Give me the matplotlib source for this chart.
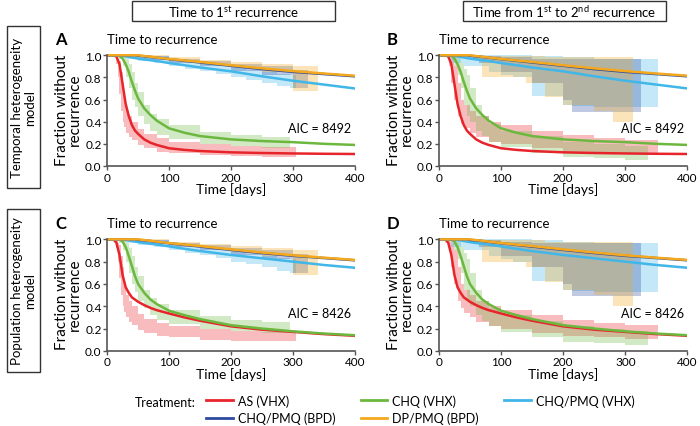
import numpy as np
import matplotlib
matplotlib.use('Agg')
import matplotlib.pyplot as plt
from matplotlib.lines import Line2D
from matplotlib.patches import Rectangle

plt.rcParams['font.family'] = ['Lato', 'DejaVu Sans']
plt.rcParams['mathtext.fontset'] = 'custom'
plt.rcParams['mathtext.rm'] = 'Lato'

# treatments
labels = ['AS (VHX)', 'CHQ (VHX)', 'CHQ/PMQ (VHX)', 'CHQ/PMQ (BPD)', 'DP/PMQ (BPD)']
colors = ['#e8242b', '#6cb83f', '#41b6e8', '#2e4c9f', '#f4a81d']

# model curves (days)
t_model = [0, 10, 15, 20, 25, 30, 35, 40, 45, 50, 60, 70, 80, 100, 125, 150, 200, 250, 300, 350, 400]

temporal_model = [
    [1, 1, 0.99, 0.92, 0.74, 0.56, 0.45, 0.37, 0.32, 0.29, 0.24, 0.21, 0.19, 0.16, 0.145, 0.135, 0.123, 0.117, 0.113, 0.11, 0.108],
    [1, 1, 1, 0.995, 0.97, 0.92, 0.85, 0.76, 0.68, 0.61, 0.52, 0.46, 0.41, 0.34, 0.3, 0.27, 0.24, 0.225, 0.215, 0.2, 0.19],
    [1, 1, 1, 1, 0.995, 0.99, 0.985, 0.98, 0.975, 0.97, 0.962, 0.955, 0.948, 0.93, 0.91, 0.89, 0.855, 0.81, 0.77, 0.735, 0.70],
    [1, 1, 1, 1, 1, 1, 1, 1, 1, 0.995, 0.99, 0.985, 0.978, 0.965, 0.95, 0.935, 0.905, 0.875, 0.85, 0.83, 0.81],
    [1, 1, 1, 1, 1, 1, 1, 1, 1, 1, 0.993, 0.987, 0.98, 0.967, 0.953, 0.94, 0.91, 0.882, 0.857, 0.835, 0.815],
]

population_model = [
    [1, 1, 0.97, 0.86, 0.68, 0.57, 0.52, 0.48, 0.46, 0.44, 0.41, 0.385, 0.365, 0.335, 0.3, 0.27, 0.22, 0.19, 0.17, 0.15, 0.135],
    [1, 1, 1, 1, 0.98, 0.93, 0.85, 0.76, 0.67, 0.6, 0.52, 0.46, 0.42, 0.36, 0.32, 0.285, 0.23, 0.2, 0.175, 0.155, 0.14],
    [1, 1, 1, 1, 0.997, 0.993, 0.99, 0.985, 0.98, 0.975, 0.967, 0.96, 0.953, 0.937, 0.915, 0.895, 0.86, 0.83, 0.80, 0.77, 0.745],
    [1, 1, 1, 1, 1, 1, 1, 1, 1, 0.995, 0.99, 0.985, 0.978, 0.965, 0.95, 0.935, 0.905, 0.877, 0.852, 0.832, 0.812],
    [1, 1, 1, 1, 1, 1, 1, 1, 1, 1, 0.993, 0.987, 0.98, 0.967, 0.953, 0.94, 0.91, 0.882, 0.857, 0.835, 0.815],
]

# empirical confidence bands: (times, lower, upper)
first_bands = [
    ([15, 18, 20, 22, 25, 28, 30, 35, 40, 50, 60, 80, 100, 150, 200, 250, 305],
     [0.92, 0.8, 0.65, 0.5, 0.4, 0.35, 0.3, 0.26, 0.23, 0.19, 0.16, 0.13, 0.12, 0.1, 0.09, 0.085, 0.08],
     [1.0, 0.97, 0.95, 0.85, 0.75, 0.6, 0.5, 0.45, 0.4, 0.33, 0.29, 0.25, 0.22, 0.2, 0.18, 0.17, 0.165]),
    ([20, 25, 30, 35, 40, 45, 50, 60, 70, 80, 100, 150, 200, 250, 295],
     [0.97, 0.9, 0.8, 0.7, 0.6, 0.53, 0.45, 0.38, 0.32, 0.28, 0.24, 0.2, 0.18, 0.16, 0.15],
     [1.0, 1.0, 0.97, 0.92, 0.85, 0.75, 0.67, 0.55, 0.47, 0.42, 0.37, 0.31, 0.28, 0.26, 0.25]),
    ([10, 30, 50, 75, 100, 125, 150, 175, 200, 225, 250, 275, 295, 305],
     [0.99, 0.97, 0.95, 0.93, 0.9, 0.88, 0.86, 0.83, 0.8, 0.78, 0.75, 0.72, 0.7, 0.7],
     [1.0, 1.0, 0.995, 0.99, 0.97, 0.95, 0.93, 0.91, 0.89, 0.87, 0.85, 0.83, 0.82, 0.82]),
    ([30, 60, 100, 150, 200, 250, 300, 325],
     [0.99, 0.96, 0.93, 0.9, 0.86, 0.82, 0.7, 0.7],
     [1.0, 0.99, 0.97, 0.95, 0.92, 0.9, 0.87, 0.87]),
    ([50, 100, 150, 200, 250, 300, 340],
     [0.99, 0.95, 0.92, 0.89, 0.85, 0.68, 0.68],
     [1.0, 0.98, 0.96, 0.94, 0.92, 0.9, 0.9]),
]

second_bands = [
    ([17, 20, 25, 30, 35, 40, 50, 60, 80, 100, 150, 200, 250, 300, 352],
     [0.9, 0.75, 0.6, 0.45, 0.38, 0.34, 0.3, 0.26, 0.22, 0.2, 0.16, 0.13, 0.12, 0.11, 0.1],
     [1.0, 0.97, 0.9, 0.75, 0.6, 0.55, 0.5, 0.45, 0.4, 0.37, 0.32, 0.28, 0.25, 0.23, 0.22]),
    ([20, 25, 30, 35, 40, 45, 50, 60, 70, 80, 100, 150, 200, 250, 300, 337],
     [0.97, 0.9, 0.82, 0.7, 0.55, 0.45, 0.4, 0.32, 0.27, 0.22, 0.17, 0.12, 0.08, 0.07, 0.05, 0.02],
     [1.0, 1.0, 0.98, 0.93, 0.88, 0.82, 0.7, 0.55, 0.45, 0.38, 0.32, 0.27, 0.22, 0.2, 0.18, 0.15]),
    ([20, 40, 60, 80, 100, 120, 150, 200, 215, 250, 300, 352],
     [0.93, 0.9, 0.9, 0.85, 0.82, 0.8, 0.63, 0.55, 0.54, 0.53, 0.53, 0.53],
     [1.0, 1.0, 1.0, 1.0, 1.0, 1.0, 0.99, 0.98, 0.98, 0.97, 0.97, 0.97]),
    ([55, 65, 100, 150, 200, 215, 250, 300, 325],
     [0.97, 0.93, 0.85, 0.75, 0.6, 0.49, 0.49, 0.49, 0.49],
     [1.0, 0.99, 0.98, 0.97, 0.97, 0.97, 0.97, 0.97, 0.97]),
    ([60, 70, 110, 140, 170, 200, 250, 280, 312],
     [0.97, 0.8, 0.8, 0.75, 0.62, 0.55, 0.5, 0.4, 0.4],
     [1.0, 0.99, 0.99, 0.99, 0.98, 0.98, 0.98, 0.98, 0.98]),
]

aic = {'A': 8492, 'B': 8492, 'C': 8426, 'D': 8426}

fig = plt.figure(figsize=(7, 4.27), dpi=100)

panels = [
    ('A', [0.153, 0.609, 0.354, 0.267], temporal_model, first_bands),
    ('B', [0.627, 0.609, 0.355, 0.267], temporal_model, second_bands),
    ('C', [0.153, 0.176, 0.354, 0.269], population_model, first_bands),
    ('D', [0.627, 0.176, 0.355, 0.269], population_model, second_bands),
]

for name, rect, model, bands in panels:
    ax = fig.add_axes(rect)
    for (t, lo, hi), c in zip(bands, colors):
        ax.fill_between(t, lo, hi, step='post', color=c, alpha=0.3, lw=0)
    for y, c in zip(model, colors):
        ax.plot(t_model, y, color=c, lw=1.8)
    ax.set_xlim(0, 400)
    ax.set_ylim(0, 1.03)
    ax.set_xticks([0, 100, 200, 300, 400])
    ax.set_yticks(np.arange(0, 1.01, 0.2))
    ax.set_yticklabels(['%.1f' % v for v in np.arange(0, 1.01, 0.2)])
    ax.spines['top'].set_visible(False)
    ax.spines['right'].set_visible(False)
    for s in ['left', 'bottom']:
        ax.spines[s].set_color('#555555')
        ax.spines[s].set_linewidth(1.2)
        ax.spines[s].set_bounds(0, 400 if s == 'bottom' else 1.0)
    ax.tick_params(direction='out', length=3, width=1, color='#555555', labelsize=8.5, pad=1)
    ax.set_xlabel('Time [days]', fontsize=10, labelpad=0)
    ax.set_ylabel('Fraction without\nrecurrence', fontsize=11, labelpad=2, linespacing=0.95)
    ax.text(0, 1.115, 'Time to recurrence', transform=ax.transAxes, fontsize=9.5, va='center')
    ax.text(-0.21, 1.115, name, transform=ax.transAxes, fontsize=12, fontweight='bold', va='center')
    ax.text(0.985, 0.34, 'AIC = %d' % aic[name], transform=ax.get_yaxis_transform(),
            ha='right', va='center', fontsize=9)

# column headers
W, H = 700.0, 427.0
for x0, x1, txt in [(132, 335, r'Time to 1$^{\mathrm{st}}$ recurrence'),
                    (463, 666, r'Time from 1$^{\mathrm{st}}$ to 2$^{\mathrm{nd}}$ recurrence')]:
    fig.patches.append(Rectangle((x0 / W, 1 - 22 / H), (x1 - x0) / W, 20 / H,
                                 transform=fig.transFigure, fill=False, ec='#333333', lw=1))
    fig.text((x0 + x1) / 2 / W, 1 - 12 / H, txt, ha='center', va='center', fontsize=9.5)

# row labels
for y0, y1, txt in [(27, 189, 'Temporal heterogeneity\nmodel'),
                    (210, 373, 'Population heterogeneity\nmodel')]:
    fig.patches.append(Rectangle((7 / W, 1 - y1 / H), 33 / W, (y1 - y0) / H,
                                 transform=fig.transFigure, fill=False, ec='#333333', lw=1))
    fig.text(23.5 / W, 1 - (y0 + y1) / 2 / H, txt, rotation=90, ha='center', va='center',
             fontsize=9.5, linespacing=1.1, multialignment='center')

# legend
handles = [Line2D([], [], color=c, lw=2) for c in colors]
order = [0, 3, 1, 4, 2]
fig.text(135 / W, 1 - 403 / H, 'Treatment:', fontsize=9, va='center')
fig.legend([handles[i] for i in order], [labels[i] for i in order], ncol=3,
           loc='upper left', bbox_to_anchor=(206 / W, 1 - 395 / H), frameon=False,
           fontsize=9, handlelength=2.15, handletextpad=0.4, columnspacing=2.0,
           labelspacing=0.4, borderpad=0, borderaxespad=0)

fig.savefig('out.png', dpi=100)
